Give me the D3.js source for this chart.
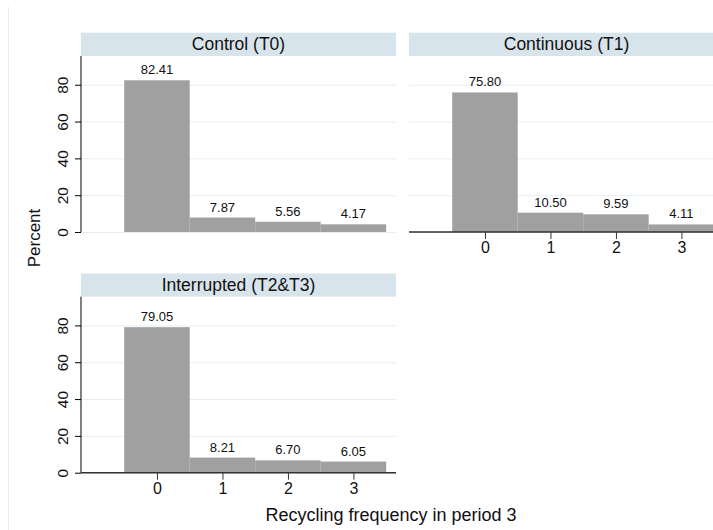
<!DOCTYPE html>
<html><head><meta charset="utf-8">
<script src="https://cdn.jsdelivr.net/npm/d3@7"></script>
<style>
html,body{margin:0;padding:0;background:#fff;}
svg{display:block;font-family:"Liberation Sans",Arial,sans-serif;}
</style></head>
<body><svg id="c" width="713" height="530"></svg>
<script>
const categories = [0, 1, 2, 3];
const panelTitles = ["Control (T0)", "Continuous (T1)", "Interrupted (T2&T3)"];
const controlValues = [82.41, 7.87, 5.56, 4.17];
const continuousValues = [75.80, 10.50, 9.59, 4.11];
const interruptedValues = [79.05, 8.21, 6.70, 6.05];
const yTicks = [0, 20, 40, 60, 80];
const xTickLabels = ["0", "1", "2", "3"];
const xTitle = "Recycling frequency in period 3";
const yTitle = "Percent";

const svg = d3.select("#c");
const W = 713, H = 530;
const stripColor = "#d8e4eb", gridColor = "#e6eef3", barColor = "#a0a0a0";

// outer faint border
svg.append("line").attr("x1", 8.5).attr("x2", 8.5).attr("y1", 7).attr("y2", H)
  .attr("stroke", "#e4ecef").attr("stroke-width", 1);

const panels = [
  {title: panelTitles[0], values: controlValues, x0: 81, y0: 56, yAxis: true, xAxis: false},
  {title: panelTitles[1], values: continuousValues, x0: 409, y0: 56, yAxis: false, xAxis: true},
  {title: panelTitles[2], values: interruptedValues, x0: 81, y0: 296.7, yAxis: true, xAxis: true}
];
const pw = 315, ph = 176, stripH = 23.3;

panels.forEach(p => {
  const g = svg.append("g");
  const x = d3.scaleLinear().domain([-1.16, 3.65]).range([p.x0, p.x0 + pw]);
  const y = d3.scaleLinear().domain([0, 95.6]).range([p.y0 + ph, p.y0]);

  // strip
  g.append("rect").attr("x", p.x0).attr("y", p.y0 - stripH).attr("width", pw).attr("height", stripH)
    .attr("fill", stripColor);
  g.append("text").attr("x", p.x0 + pw / 2).attr("y", p.y0 - stripH / 2 + 6)
    .attr("text-anchor", "middle").attr("font-size", 17.5).attr("fill", "#111").text(p.title);

  // gridlines
  g.selectAll(".grid").data(yTicks).join("line")
    .attr("x1", p.x0).attr("x2", p.x0 + pw)
    .attr("y1", d => y(d) + 0.5).attr("y2", d => y(d) + 0.5)
    .attr("stroke", gridColor).attr("stroke-width", 1);

  // bars
  g.selectAll(".bar").data(categories).join("rect")
    .attr("x", d => x(d - 0.5)).attr("width", d => x(d + 0.5) - x(d - 0.5))
    .attr("y", (d, i) => y(p.values[i])).attr("height", (d, i) => y(0) - y(p.values[i]))
    .attr("fill", barColor);

  // value labels
  g.selectAll(".lab").data(categories).join("text")
    .attr("x", d => x(d)).attr("y", (d, i) => y(p.values[i]) - 6)
    .attr("text-anchor", "middle").attr("font-size", 13).attr("fill", "#111")
    .text((d, i) => p.values[i].toFixed(2));

  if (p.yAxis) {
    const ax = g.append("g").attr("transform", `translate(${p.x0},0)`)
      .call(d3.axisLeft(y).tickValues(yTicks).tickSize(6).tickPadding(4).tickFormat(d3.format("d")));
    ax.select(".domain").attr("d", `M0,${p.y0}V${p.y0 + ph}`).attr("stroke", "#000");
    ax.selectAll(".tick line").attr("stroke", "#000");
    ax.selectAll(".tick text").attr("font-size", 15.5).attr("fill", "#111")
      .attr("font-family", "Liberation Sans, Arial, sans-serif")
      .attr("text-anchor", "middle")
      .attr("x", 0).attr("y", 0).attr("dy", 0)
      .attr("transform", "translate(-13,0) rotate(-90)");
  }
  if (p.xAxis) {
    const ax = g.append("g").attr("transform", `translate(0,${p.y0 + ph})`)
      .call(d3.axisBottom(x).tickValues(categories).tickSize(7).tickPadding(3).tickFormat((d, i) => xTickLabels[i]));
    ax.select(".domain").attr("d", `M${p.x0},0H${p.x0 + pw}`).attr("stroke", "#333").attr("stroke-width", 1.5);
    ax.selectAll(".tick line").attr("stroke", "#333");
    ax.selectAll(".tick text").attr("font-size", 16).attr("fill", "#111")
      .attr("font-family", "Liberation Sans, Arial, sans-serif");
  }
});

svg.append("text").attr("x", 391).attr("y", 521).attr("text-anchor", "middle")
  .attr("font-size", 18).attr("fill", "#111").text(xTitle);
svg.append("text").attr("transform", "translate(40,238) rotate(-90)").attr("text-anchor", "middle")
  .attr("font-size", 17).attr("fill", "#111").text(yTitle);
</script></body></html>
